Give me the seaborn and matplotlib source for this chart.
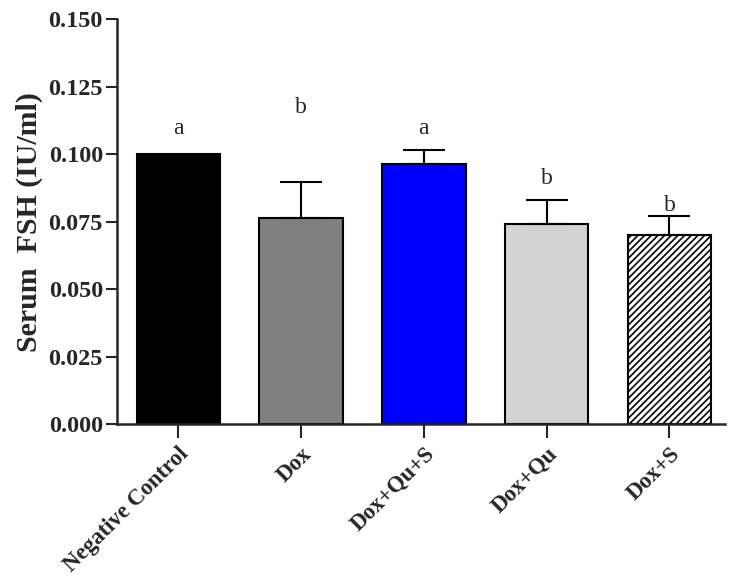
import numpy as np
import pandas as pd
import matplotlib
matplotlib.use('Agg')
import matplotlib.pyplot as plt
import seaborn as sns

# values
groups = ['Negative Control', 'Dox', 'Dox+Qu+S', 'Dox+Qu', 'Dox+S']
fsh_mean = [0.100, 0.0763, 0.0963, 0.0740, 0.0700]
fsh_err = [0.0, 0.0133, 0.0052, 0.0090, 0.0070]
sig_letters = ['a', 'b', 'a', 'b', 'b']
letter_y = [0.1096, 0.1174, 0.1096, 0.0911, 0.0811]
bar_colors = ['#000000', '#808080', '#0000ff', '#d3d3d3', '#ffffff']
y_ticks = [0.000, 0.025, 0.050, 0.075, 0.100, 0.125, 0.150]

sns.set_style('ticks')
plt.rcParams['font.family'] = ['Liberation Serif', 'DejaVu Serif']
plt.rcParams['hatch.linewidth'] = 1.2

df = pd.DataFrame({'group': groups, 'fsh': fsh_mean})

fig = plt.figure(figsize=(7.35, 5.82), dpi=100)
ax = fig.add_axes([0.159, 0.2715, 0.827, 0.6955])

sns.barplot(data=df, x='group', y='fsh', hue='group', palette=bar_colors,
            legend=False, width=0.68, edgecolor='black', linewidth=1.5,
            saturation=1, errorbar=None, ax=ax)

# hatched last bar
ax.patches[4].set_hatch('/////')

# upper-only error bars
pos = np.arange(len(groups))
lower = np.zeros(len(groups))
ax.errorbar(pos[1:], fsh_mean[1:], yerr=[lower[1:], fsh_err[1:]], fmt='none',
            ecolor='black', elinewidth=1.5, capsize=15, capthick=1.5, zorder=1)

for i, lab in enumerate(sig_letters):
    ax.text(pos[i], letter_y[i], lab, ha='center', va='center', fontsize=17)

ax.set_xlim(-0.5, 4.45)
ax.set_ylim(0, 0.150)
ax.set_yticks(y_ticks)
ax.set_yticklabels([f'{t:.3f}' for t in y_ticks], fontweight='bold', fontsize=17.5)
ax.set_xticks(pos)
ax.set_xticklabels(groups, rotation=45, ha='right', rotation_mode='anchor',
                   fontweight='bold', fontsize=16.5)
ax.set_xlabel('')
ax.set_ylabel('Serum  FSH (IU/ml)', fontweight='bold', fontsize=21.5, labelpad=4)

ax.tick_params(axis='y', direction='out', length=8, width=1.5, pad=2)
ax.tick_params(axis='x', direction='out', length=10, width=1.5, pad=4)
for side in ['left', 'bottom']:
    ax.spines[side].set_linewidth(1.8)
sns.despine(ax=ax)

fig.savefig('out.png', dpi=100)
